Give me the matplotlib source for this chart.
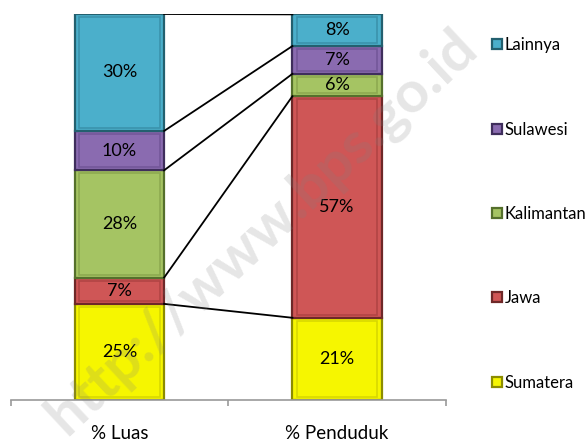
import matplotlib.pyplot as plt
import numpy as np

plt.rcParams['font.family'] = ['Lato', 'DejaVu Sans']

categories = ['% Luas', '% Penduduk']
islands = ['Sumatera', 'Jawa', 'Kalimantan', 'Sulawesi', 'Lainnya']
luas = [24.9, 6.8, 27.8, 10.2, 30.3]
penduduk = [21.3, 57.4, 5.8, 7.2, 8.2]
colors = ['#F6F600', '#CF5656', '#A5C463', '#8A6BB0', '#4BAFCB']
edges = ['#8C8C00', '#6E2828', '#55702C', '#3F2E5C', '#23606F']
inner = ['#D8D800', '#B24444', '#8DAA50', '#74579A', '#3B93AC']

fig = plt.figure(figsize=(5.86, 4.44), dpi=100)
ax = fig.add_axes([10.75 / 586, 1 - 400 / 444, 435 / 586, 386 / 444])

x = np.arange(len(categories))
w = 0.41
bottom = np.zeros(len(categories))
tops = []
handles = []
for name, a, b, c, e, ic in zip(islands, luas, penduduk, colors, edges, inner):
    vals = np.array([a, b])
    bars = ax.bar(x, vals, w, bottom=bottom, color=c, edgecolor=e, linewidth=1.6, label=name)
    # inner outline for a bevelled look
    ax.bar(x, vals - 1.6, w - 0.04, bottom=bottom + 0.8, color='none', edgecolor=ic, linewidth=1.2)
    handles.append(bars)
    for xi, v, bt in zip(x, vals, bottom):
        ax.text(xi, bt + v / 2, f'{v:.0f}%', ha='center', va='center', fontsize=13)
    bottom = bottom + vals
    tops.append(bottom.copy())

# series lines between the bars
for t in tops:
    ax.plot([x[0] + w / 2, x[1] - w / 2], [min(t[0], 100), min(t[1], 100)],
            color='black', linewidth=1.3, zorder=1)

ax.set_xlim(-0.5, 1.5)
ax.set_ylim(0, 100)
for s in ['left', 'right', 'top']:
    ax.spines[s].set_visible(False)
ax.spines['bottom'].set_color('#999999')
ax.spines['bottom'].set_linewidth(1.2)
ax.set_yticks([])
ax.set_xticks(x)
ax.set_xticklabels(categories, fontsize=13.5)
ax.tick_params(axis='x', length=0, pad=18)
ax.set_xticks([-0.5, 0.5, 1.5], minor=True)
ax.tick_params(axis='x', which='minor', length=4, color='#999999', width=1.2)

fig.legend(handles[::-1], islands[::-1], loc='upper left', bbox_to_anchor=(484 / 586, 1 - 29 / 444),
           frameon=False, fontsize=12, handlelength=0.55, handleheight=0.55,
           handletextpad=0.2, labelspacing=4.1, borderpad=0)

fig.text(262 / 586, 1 - 232 / 444, 'http://www.bps.go.id', fontsize=42, fontweight='bold',
         color='#808080', alpha=0.2, rotation=43, ha='center', va='center', zorder=10)

fig.savefig('out.png', dpi=100)
